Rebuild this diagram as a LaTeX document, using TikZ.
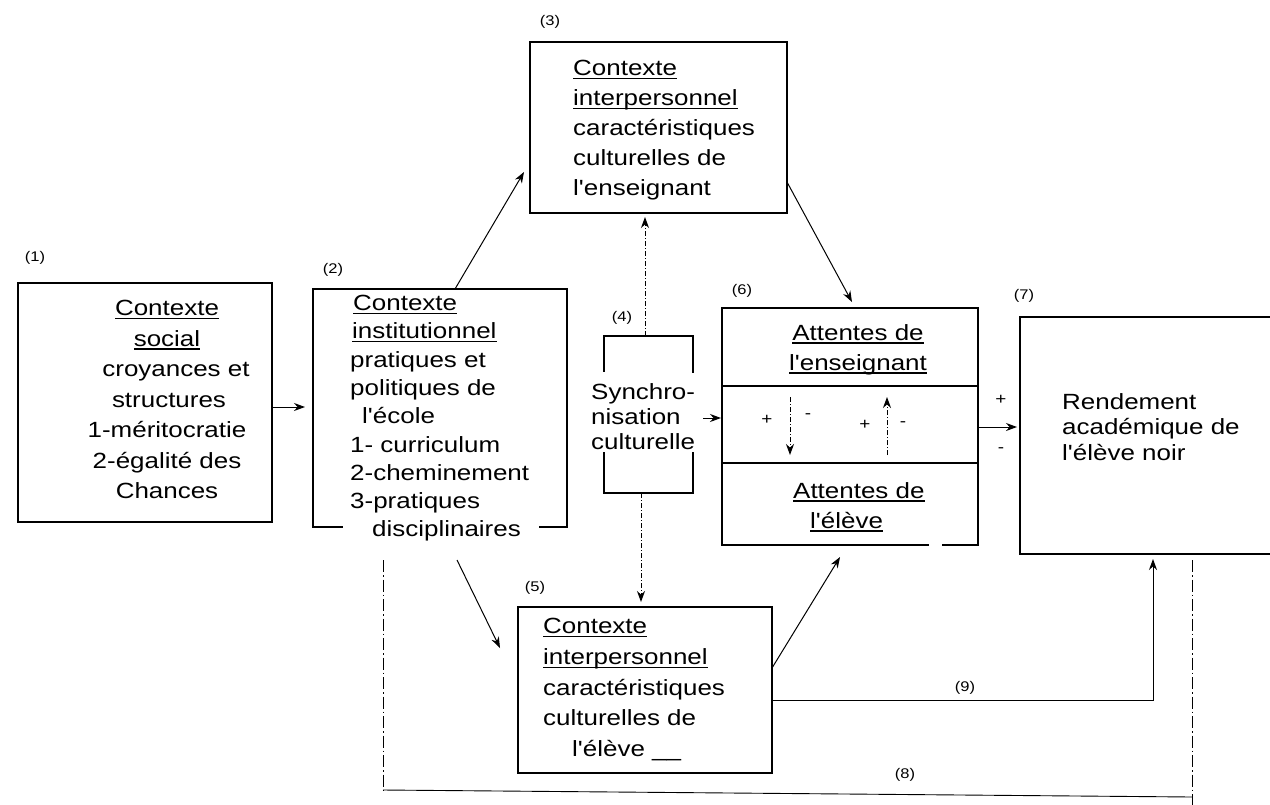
\documentclass[tikz,border=0pt]{standalone}
\usepackage{fontspec}
\newfontfamily\lsans{Liberation Sans}[FakeStretch=1.18]
\usetikzlibrary{arrows.meta,calc}
\newsavebox\ulbox
\newcommand{\ulw}[1]{\sbox\ulbox{#1}\rlap{\rule[-3.5pt]{\wd\ulbox}{1.2pt}}\usebox\ulbox}
\tikzset{
  boxline/.style={line width=1.6pt, line cap=rect},
  boxn/.style={inner sep=0pt, outer sep=0pt},
  conn/.style={line width=1pt, -{Stealth[length=11pt,width=8pt]}},
  dconn/.style={conn, dash pattern=on 5pt off 2pt on 1pt off 2pt},
  ddline/.style={line width=0.9pt, dash pattern=on 12pt off 3pt on 1.5pt off 3pt},
  txt/.style={inner sep=0pt, font=\lsans\fontsize{22}{#1}\selectfont},
  lbl/.style={inner sep=0pt, font=\lsans\fontsize{14}{16}\selectfont},
  sign/.style={inner sep=0pt, font=\lsans\fontsize{16}{18}\selectfont}
}
\begin{document}
\begin{tikzpicture}[x=1pt,y=-1pt]
\useasboundingbox (0,0) rectangle (1270,804);
\fill[white] (0,0) rectangle (1270,804);

% boxes
\node[boxn, draw, line width=1.6pt, minimum width=254, minimum height=239] (b1) at (145,402.5) {};
\node[boxn, minimum width=254, minimum height=238] (b2) at (440,408) {};
\node[boxn, draw, line width=1.6pt, minimum width=257, minimum height=171] (b3) at (658.5,127.5) {};
\node[boxn, minimum width=89, minimum height=157] (b4) at (648.5,414.5) {};
\node[boxn, minimum width=256, minimum height=237] (b6) at (850,426.5) {};
\node[boxn, minimum width=252, minimum height=237] (b7) at (1146,435.5) {};
\node[boxn, draw, line width=1.6pt, minimum width=254, minimum height=166] (b5) at (645,690) {};

% irregular outlines
\draw[boxline] ($(b2.south west)+(29,0)$) -- (b2.south west) -- (b2.north west) -- (b2.north east) -- (b2.south east) -- ++(-27,0);
\draw[boxline] ($(b4.north west)+(0,35)$) -- (b4.north west) -- (b4.north east) -- ++(0,36);
\draw[boxline] ($(b4.south west)+(0,-40)$) -- (b4.south west) -- (b4.south east) -- ++(0,-40);
\draw[boxline] ($(b6.south west)+(206,0)$) -- (b6.south west) -- (b6.north west) -- (b6.north east) -- (b6.south east) -- ++(-35,0);
\draw[boxline] ($(b6.north west)+(0,78)$) -- ($(b6.north east)+(0,78)$);
\draw[boxline] ($(b6.north west)+(0,155)$) -- ($(b6.north east)+(0,155)$);
\draw[boxline] (b7.north east) -- (b7.north west) -- (b7.south west) -- (b7.south east);

% number labels
\node[lbl] (l1) at (35,258) {(1)};
\node[lbl] (l2) at (333,270) {(2)};
\node[lbl] (l3) at (550,22) {(3)};
\node[lbl] (l4) at (622,318) {(4)};
\node[lbl] (l5) at (535,588) {(5)};
\node[lbl] (l6) at (742,291) {(6)};
\node[lbl] (l7) at (1024,296) {(7)};
\node[lbl] (l8) at (905,775) {(8)};
\node[lbl] (l9) at (965,688) {(9)};

% texts
\node[txt=30.5, anchor=north, align=center] (t1) at (167,300)
  {\ulw{Contexte}\\\ulw{social}\\\hspace*{18pt}croyances et\\\hspace*{4pt}structures\\1-méritocratie\\2-égalité des\\Chances};
\node[txt=28.3, anchor=north west, align=left] (t2) at (350,295)
  {\hspace*{3pt}\ulw{Contexte}\\\hspace*{2pt}\ulw{institutionnel}\\pratiques et\\politiques de\\\hspace*{12pt}l'école\\1- curriculum\\2-cheminement\\3-pratiques\\\hspace*{22pt}disciplinaires};
\node[txt=30, anchor=north west, align=left] (t3) at (573,60)
  {\ulw{Contexte}\\\ulw{interpersonnel}\\caractéristiques\\culturelles de\\l'enseignant};
\node[txt=25, anchor=north west, align=left] (t4) at (591,383)
  {Synchro-\\nisation\\culturelle};
\node[txt=30, anchor=north, align=center] (t6a) at (858,324)
  {\ulw{Attentes de}\\\ulw{l'enseignant}};
\node[txt=30, anchor=north west, align=left] (t6b) at (793,482)
  {\ulw{Attentes de}\\\hspace*{17pt}\ulw{l'élève}};
\node[txt=25.5, anchor=north west, align=left] (t7) at (1062,393)
  {Rendement\\académique de\\l'élève noir};
\node[txt=30.75, anchor=north west, align=left] (t5) at (543,618)
  {\ulw{Contexte}\\\ulw{interpersonnel}\\caractéristiques\\culturelles de\\\hspace*{29pt}l'élève \_\_};

% signs inside box 6 and near arrow to 7
\node[sign] (p1) at (767,420) {+};
\node[sign] (m1) at (808,416) {-};
\node[sign] (p2) at (865,425) {+};
\node[sign] (m2) at (903,424) {-};
\node[sign] (p3) at (1001,400) {+};
\node[sign] (m3) at (1001,450) {-};
\coordinate (a1s) at ($(b6.north west)+(68,89)$);
\coordinate (a1e) at ($(b6.north west)+(68,147)$);
\coordinate (a2s) at ($(b6.north west)+(165,147)$);
\coordinate (a2e) at ($(b6.north west)+(165,89)$);
\draw[dconn] (a1s) -- (a1e);
\draw[dconn] (a2s) -- (a2e);

% connectors
\draw[conn] ($(b1.east)+(0,4.5)$) -- ($(b2.west)+(-8,-1)$);
\draw[conn] ($(b2.north)+(15,0)$) -- ($(b3.west)+(-6,44.5)$);
\draw[conn] ($(b3.east)+(0,54.5)$) -- ($(b6.north)+(2,-6)$);
\draw[dconn] ($(b4.north)+(-3.5,0)$) -- ($(b3.south)+(-13.5,4)$);
\draw[dconn] ($(b4.south)+(-7.5,0)$) -- ($(b5.north)+(-4,-5)$);
\draw[conn] ($(b4.east)+(10,3.5)$) -- ($(b6.west)+(-1,-8.5)$);
\draw[conn] ($(b2.south)+(17,33)$) -- ($(b5.west)+(-18,-42)$);
\draw[conn] ($(b5.east)+(0,-22)$) -- ($(b6.south)+(-10,12)$);
\draw[conn] ($(b6.east)+(0,0.5)$) -- ($(b7.west)+(-3,-8.5)$);
\draw[conn] ($(b5.east)+(0,10)$) -| ($(b7.south)+(7,5)$);

% path (8)
\coordinate (c8a) at (383,790);
\coordinate (c8b) at (1192,797);
\coordinate (c8e) at (1192,806);
\draw[ddline] ($(b2.south)+(-57,33)$) -- (c8a);
\draw[line width=0.9pt] (c8a) -- (c8b);
\draw[ddline] ($(b7.south)+(46,6)$) -- (c8e);
\end{tikzpicture}
\end{document}
